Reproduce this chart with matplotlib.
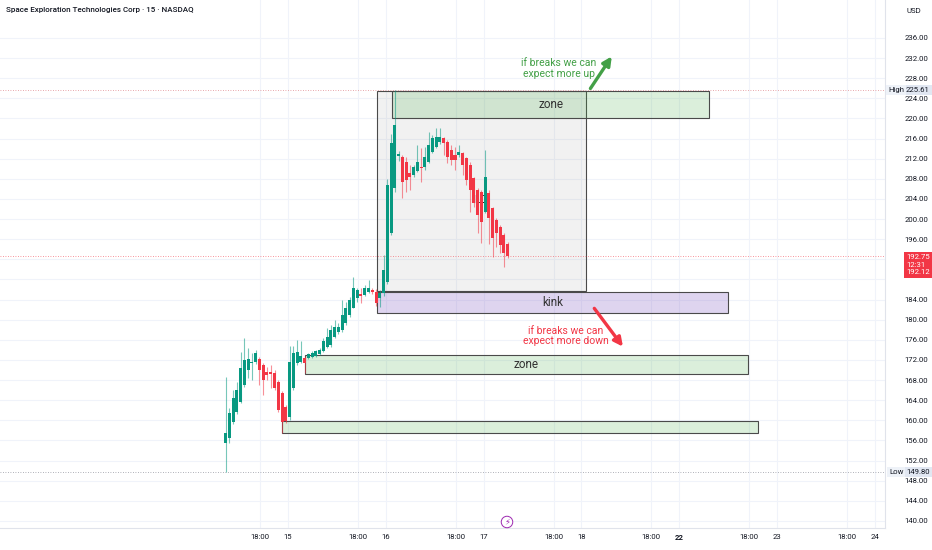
import matplotlib.pyplot as plt
from matplotlib.patches import Rectangle
from matplotlib.transforms import blended_transform_factory

plt.rcParams['font.family'] = ['Roboto', 'DejaVu Sans']

# 15 min candles, x = bar index
opens = [155.5, 156.5, 159.7, 161.7, 163.7, 167.0, 170.0, 171.4, 171.6, 172.2,
         171.0, 169.6, 169.6, 169.4, 167.6, 165.4, 162.6, 160.7, 166.4, 171.4,
         171.6, 172.4, 172.4, 172.6, 172.8, 173.2, 173.8, 174.6, 175.0, 176.6,
         177.6, 178.0, 179.4, 180.9, 182.3, 184.3, 185.1, 184.9, 185.5, 185.9,
         185.5, 184.3, 185.3, 187.5, 197.2, 206.2, 212.5, 212.3, 211.4, 209.2,
         208.8, 209.6, 210.4, 210.4, 211.4, 213.3, 214.3, 215.3, 216.1, 215.3,
         213.7, 212.7, 212.8, 213.1, 212.1, 210.8, 208.2, 205.8, 205.4, 201.4,
         205.2, 202.2, 199.8, 198.4, 196.8, 195.0]
highs = [168.6, 162.5, 166.0, 167.6, 173.6, 176.4, 174.4, 173.4, 174.0, 172.6,
         171.4, 170.6, 171.0, 170.0, 168.0, 165.8, 163.0, 174.8, 174.8, 176.0,
         175.8, 172.8, 173.4, 173.8, 174.0, 174.4, 176.4, 178.4, 179.0, 180.0,
         179.4, 183.9, 183.5, 184.6, 188.5, 186.3, 186.3, 186.9, 187.9, 186.3,
         186.1, 185.9, 192.9, 208.0, 217.0, 225.61, 213.5, 212.7, 212.4, 210.8,
         210.8, 214.7, 214.1, 214.3, 217.3, 216.7, 218.1, 218.1, 216.3, 215.7,
         214.7, 214.3, 214.7, 213.3, 212.3, 211.4, 208.4, 206.2, 205.8, 213.7,
         205.8, 202.4, 200.2, 198.8, 197.2, 195.4]
lows = [149.8, 155.5, 159.3, 161.3, 163.5, 166.6, 168.4, 168.0, 171.2, 167.0,
        165.0, 168.0, 166.4, 166.0, 161.6, 157.5, 159.5, 160.0, 166.0, 171.0,
        171.4, 169.4, 172.2, 172.4, 172.6, 173.0, 173.6, 174.4, 174.6, 176.4,
        177.2, 177.6, 179.0, 180.5, 182.3, 183.5, 183.3, 184.7, 185.3, 185.1,
        182.7, 182.5, 184.7, 187.1, 196.8, 205.4, 211.5, 204.2, 205.4, 205.8,
        208.4, 209.4, 207.4, 209.8, 211.2, 213.1, 214.1, 215.0, 212.7, 211.2,
        210.8, 209.8, 212.4, 208.8, 206.8, 201.4, 202.4, 197.2, 195.2, 201.2,
        195.0, 192.5, 194.5, 193.3, 190.5, 192.3]
closes = [157.5, 161.5, 164.4, 166.0, 170.4, 172.0, 172.2, 171.6, 173.4, 170.0,
          168.0, 169.0, 169.2, 166.4, 162.1, 159.7, 159.9, 171.6, 173.4, 173.6,
          172.8, 171.4, 173.2, 173.4, 173.8, 174.0, 175.8, 176.6, 178.0, 178.6,
          178.6, 180.9, 182.3, 183.9, 186.3, 185.9, 184.7, 186.3, 186.3, 185.5,
          183.3, 185.3, 189.9, 206.8, 215.1, 218.7, 212.9, 207.4, 207.8, 208.4,
          210.4, 211.4, 210.2, 212.4, 214.7, 216.1, 216.3, 216.3, 215.1, 212.4,
          211.8, 211.8, 213.3, 210.8, 207.8, 205.8, 203.2, 200.8, 199.4, 208.4,
          200.2, 196.2, 197.2, 194.9, 193.3, 192.75]

# drawn rectangles (bar index / price)
box_left = [40.2, 44.2, 40.2, 21.1, 15.1]
box_right = [95.8, 128.6, 133.6, 138.8, 141.6]
box_low = [185.7, 220.0, 181.3, 169.2, 157.4]
box_high = [225.5, 225.5, 185.5, 172.9, 159.9]
box_labels = ["", "zone", "kink", "zone", ""]
box_fills = [(0.55, 0.55, 0.55, 0.12), (0.30, 0.69, 0.31, 0.2),
             (0.49, 0.34, 0.76, 0.25), (0.30, 0.69, 0.31, 0.2),
             (0.30, 0.69, 0.31, 0.2)]

price_ticks = list(range(140, 240, 4))
day_pos = [16.6, 42.6, 68.6, 94.6, 120.6, 146.6, 172.6]
day_labels = ["15", "16", "17", "18", "22", "23", "24"]
hour_pos = [9.2, 35.2, 61.2, 87.2, 113.2, 139.2, 165.2]

high_price = 225.61
low_price = 149.80
last_price = 192.75

UP = "#089981"
DOWN = "#f23645"

fig = plt.figure(figsize=(9.32, 5.5), dpi=100)
ax = fig.add_axes([0, 22 / 550, 885 / 932, 528 / 550])
ax.set_xlim(-60.0, 175.35)
ax.set_ylim(138.6, 243.55)

# grid
for p in price_ticks:
    ax.axhline(p, color="#f0f3fa", lw=0.8, zorder=0)
for x in day_pos + hour_pos:
    ax.axvline(x, color="#f0f3fa", lw=0.8, zorder=0)

# boxes
for x0, x1, lo, hi, lab, fc in zip(box_left, box_right, box_low, box_high,
                                   box_labels, box_fills):
    ax.add_patch(Rectangle((x0, lo), x1 - x0, hi - lo, facecolor=fc,
                           edgecolor="#4a4a4a", lw=0.8, zorder=1))
    if lab:
        ax.text((x0 + x1) / 2, (lo + hi) / 2, lab, ha="center", va="center",
                fontsize=8.5, color="#333333", zorder=2)

# reference lines
ax.axhline(high_price, color="#e08a90", lw=0.6, ls=(0, (1, 2)), zorder=1)
ax.axhline(low_price, color="#9598a1", lw=0.6, ls=(0, (1, 2)), zorder=1)
ax.axhline(last_price, color=DOWN, lw=0.6, ls=(0, (1, 2)), alpha=0.7, zorder=1)

ax.text(67.9, 203.8, "LQ", fontsize=7.5, color="#222222", ha="center",
        va="center", zorder=2)

# candles
for i, (o, h, l, c) in enumerate(zip(opens, highs, lows, closes)):
    col = UP if c >= o else DOWN
    ax.vlines(i, l, h, color=col, lw=0.8, alpha=0.55, zorder=3)
    body = max(abs(c - o), 0.25)
    ax.bar(i, body, bottom=min(o, c), width=0.8, color=col, lw=0, zorder=4)

# arrows and notes
ax.annotate("", xy=(103.1, 232.8), xytext=(96.6, 225.5),
            arrowprops=dict(arrowstyle="-|>", color="#43a047", lw=2.4,
                            mutation_scale=13), zorder=5)
ax.text(88.6, 229.9, "if breaks we can\nexpect more up", color="#43a047",
        fontsize=7.5, ha="center", va="center", linespacing=1.05, zorder=5)
ax.annotate("", xy=(106.1, 174.2), xytext=(97.6, 182.7),
            arrowprops=dict(arrowstyle="-|>", color=DOWN, lw=2.4,
                            mutation_scale=13), zorder=5)
ax.text(90.5, 176.8, "if breaks we can\nexpect more down", color=DOWN,
        fontsize=7.5, ha="center", va="center", linespacing=1.05, zorder=5)

# axes styling
for s in ["top", "left"]:
    ax.spines[s].set_visible(False)
ax.spines["right"].set_color("#e0e3eb")
ax.spines["bottom"].set_color("#e0e3eb")
ax.yaxis.tick_right()
ax.set_yticks(price_ticks)
# 192.00 and 188.00 sit under the last-price badge
ax.set_yticklabels(["" if p in (188, 192) else f"{p:.2f}" for p in price_ticks])
ax.tick_params(axis="y", length=0, pad=14, labelsize=5.6, labelcolor="#131722")
ax.set_xticks(hour_pos + day_pos)
ax.set_xticklabels(["18:00"] * len(hour_pos) + day_labels)
ax.tick_params(axis="x", length=0, pad=4, labelsize=5.6, labelcolor="#131722")
for t in ax.get_xticklabels():
    if t.get_text() == "22":
        t.set_fontweight("bold")

# price scale labels
tr = blended_transform_factory(fig.transFigure, ax.transData)
ax.text(906 / 932, high_price, "225.61", transform=tr, fontsize=5.6,
        va="center", ha="left", color="#131722", clip_on=False, zorder=6,
        bbox=dict(boxstyle="square,pad=0.25", fc="#e1e7f2", ec="none"))
ax.text(888 / 932, high_price, "High", transform=tr, fontsize=5.6,
        va="center", ha="left", color="#131722", clip_on=False, zorder=6,
        bbox=dict(boxstyle="square,pad=0.25", fc="#eef2f8", ec="none"))
ax.text(906 / 932, low_price, "149.80", transform=tr, fontsize=5.6,
        va="center", ha="left", color="#131722", clip_on=False, zorder=6,
        bbox=dict(boxstyle="square,pad=0.25", fc="#e1e7f2", ec="none"))
ax.text(889 / 932, low_price, "Low", transform=tr, fontsize=5.6,
        va="center", ha="left", color="#131722", clip_on=False, zorder=6,
        bbox=dict(boxstyle="square,pad=0.25", fc="#eef2f8", ec="none"))
ax.text(906 / 932, 190.9, "192.75\n12:31\n192.12", transform=tr,
        fontsize=5.6, va="center", ha="left", color="white", clip_on=False,
        zorder=6, linespacing=1.3,
        bbox=dict(boxstyle="square,pad=0.3", fc=DOWN, ec="none"))

fig.text(914 / 932, 1 - 11 / 550, "USD", fontsize=5.6, ha="center",
         va="center", color="#131722")
fig.text(6 / 932, 1 - 10 / 550,
         "Space Exploration Technologies Corp \u00b7 15 \u00b7 NASDAQ",
         fontsize=5.8, fontweight="medium", ha="left", va="center",
         color="#131722")
fig.text(507 / 932, 1 - 522 / 550, "\u26a1", fontsize=6, ha="center",
         va="center", color="#9c27b0",
         bbox=dict(boxstyle="circle,pad=0.15", fc="white", ec="#9c27b0", lw=0.7),
         family=["DejaVu Sans"])

fig.savefig("out.png", dpi=100)
